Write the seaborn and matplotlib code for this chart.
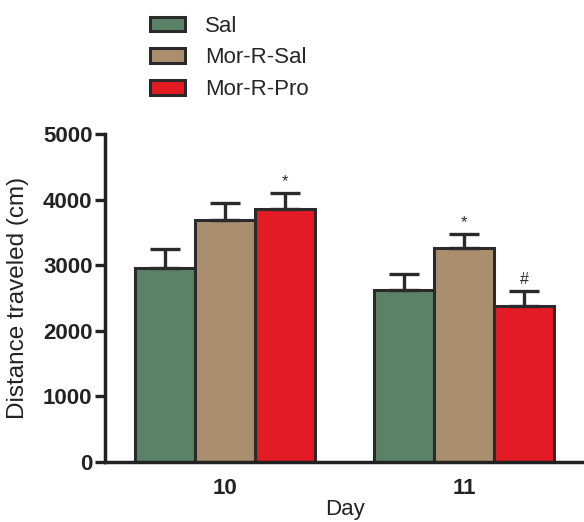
import matplotlib
matplotlib.use("Agg")
import matplotlib.pyplot as plt
import seaborn as sns
import pandas as pd
import numpy as np

days = ["10", "11"]
groups = ["Sal", "Mor-R-Sal", "Mor-R-Pro"]
sal_mean = [2960, 2630]
morsal_mean = [3690, 3260]
morpro_mean = [3860, 2375]
sal_sem = [285, 235]
morsal_sem = [255, 215]
morpro_sem = [235, 238]
marks = {("10", "Mor-R-Pro"): "*", ("11", "Mor-R-Sal"): "*", ("11", "Mor-R-Pro"): "#"}
colors = ["#5b8266", "#a98f6d", "#e21b25"]

rows = []
for g, m, s in zip(groups, [sal_mean, morsal_mean, morpro_mean], [sal_sem, morsal_sem, morpro_sem]):
    for d, mv, sv in zip(days, m, s):
        rows.append({"Day": d, "Group": g, "Distance": mv, "SEM": sv})
df = pd.DataFrame(rows)

sns.set_style("white")
plt.rcParams['font.family'] = ['Liberation Sans', 'DejaVu Sans']

fig = plt.figure(figsize=(5.84, 5.22), dpi=100)
ax = fig.add_axes([0.18, 0.115, 0.82, 0.628])

sns.barplot(data=df, x="Day", y="Distance", hue="Group", order=days, hue_order=groups,
            palette=colors, width=0.75, errorbar=None, edgecolor="#2a2a2a", linewidth=2.2,
            saturation=1, ax=ax, legend=True)

# error bars (upper only) from bar patches
bars = [p for p in ax.patches if p.get_height() > 0]
for p in bars:
    xc = p.get_x() + p.get_width() / 2
    h = p.get_height()
    row = df[np.isclose(df["Distance"], h)].iloc[0]
    ax.errorbar(xc, h, yerr=[[0], [row["SEM"]]], fmt="none", ecolor="#2a2a2a",
                elinewidth=2.4, capsize=11, capthick=2.4, zorder=1)
    key = (row["Day"], row["Group"])
    if key in marks:
        sym = marks[key]
        ax.text(xc, h + row["SEM"] + 60, sym, ha="center", va="bottom",
                fontsize=12 if sym == "*" else 11.5, color="#2a2a2a")

ax.set_ylim(0, 5000)
ax.set_xlim(-0.5, 1.5)
ax.set_yticks([0, 1000, 2000, 3000, 4000, 5000])
ax.set_yticklabels(["0", "1000", "2000", "3000", "4000", "5000"], fontsize=16, fontweight="bold", color="#222222")
ax.set_xticks([0, 1])
ax.set_xticklabels(days, fontsize=16, fontweight="bold", color="#222222")
ax.tick_params(axis="y", left=True, length=7, width=2.4, color="#222222", pad=2)
ax.tick_params(axis="x", bottom=False, pad=8)
ax.set_ylabel("Distance traveled (cm)", fontsize=17.5, color="#222222", labelpad=10)
ax.set_xlabel("Day", fontsize=16, color="#222222", labelpad=0)
for s in ["top", "right"]:
    ax.spines[s].set_visible(False)
for s in ["left", "bottom"]:
    ax.spines[s].set_linewidth(2.5)
    ax.spines[s].set_color("#222222")

handles, labels = ax.get_legend_handles_labels()
ax.get_legend().remove()
fig.legend(handles, labels, loc="upper left", bbox_to_anchor=(0.222, 1.008), frameon=False,
           fontsize=16, handlelength=1.6, handleheight=0.65, handletextpad=0.9,
           labelspacing=0.48)

fig.savefig("out.png", dpi=100)
